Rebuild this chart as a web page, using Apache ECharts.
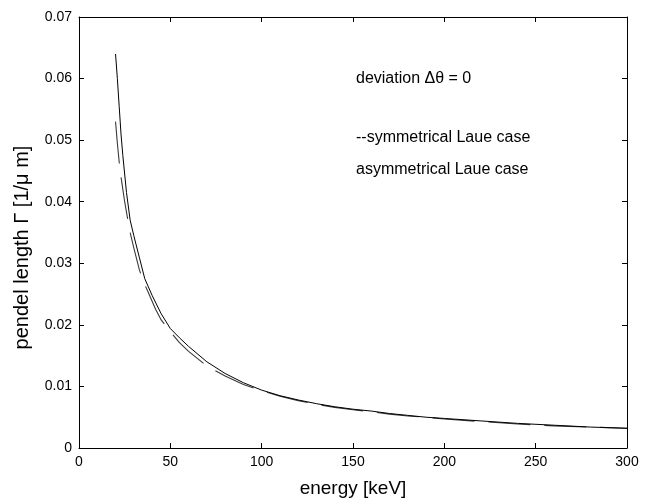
<!DOCTYPE html>
<html>
<head>
<meta charset="utf-8">
<script src="https://cdn.jsdelivr.net/npm/echarts@6/dist/echarts.min.js"></script>
<style>html,body{margin:0;padding:0;background:#fff}#c{width:650px;height:503px}</style>
</head>
<body>
<div id="c"></div>
<script>
// Asymmetrical Laue case (solid)
const asymE = [20,21,22,23,24,25,26,28,30,33,36,40,45,50,55,60,70,80,90,100,110,120,130,140,150,160,170,180,190,200,220,240,260,280,300];
const asymG = [0.0640,0.0600,0.0555,0.0510,0.0475,0.0445,0.0415,0.0370,0.0345,0.0310,0.0275,0.0248,0.0218,0.0194,0.0179,0.0165,0.0140,0.0121,0.0106,0.0094,0.0085,0.0078,0.0072,0.0067,0.0063,0.0060,0.0056,0.0053,0.0050,0.0048,0.0044,0.0040,0.0037,0.0034,0.0032];
// Symmetrical Laue case (dashed)
const symE = [20,21,22,22.5,24,25,27,28,30,33,35,38,42,45,50,55,60,70,80,90,100,110,120,130,140,150,160,170,180,190,200,220,240,260,280,300];
const symG = [0.0530,0.0495,0.0465,0.0450,0.0420,0.0400,0.0366,0.0350,0.0325,0.0290,0.0272,0.0252,0.0225,0.0208,0.0189,0.0171,0.0157,0.0133,0.0117,0.0103,0.0093,0.0084,0.0077,0.0071,0.0066,0.0062,0.0059,0.0055,0.0052,0.0050,0.0047,0.0043,0.0039,0.0036,0.0034,0.0032];
const xTicks = [0,50,100,150,200,250,300];
const yTicks = [0,0.01,0.02,0.03,0.04,0.05,0.06,0.07];
const annotations = ['deviation \u0394\u03B8 = 0', '--symmetrical Laue case', 'asymmetrical Laue case'];

const font = 'Liberation Sans, Arial, Helvetica, sans-serif';
const chart = echarts.init(document.getElementById('c'), null, {renderer:'canvas'});
const axisCommon = {
  axisLine:{show:true, onZero:false, lineStyle:{color:'#000', width:1}},
  axisTick:{show:true, inside:true, length:5, lineStyle:{color:'#000'}},
  splitLine:{show:false}
};
chart.setOption({
  animation:false,
  backgroundColor:'#fff',
  grid:{left:79, right:23, top:17, bottom:54, containLabel:false},
  xAxis:[
    Object.assign({type:'value', position:'bottom', min:0, max:300, interval:50,
      name:'energy [keV]', nameLocation:'middle', nameGap:31,
      nameTextStyle:{fontFamily:font, fontSize:19, color:'#000'},
      axisLabel:{fontFamily:font, fontSize:14, color:'#000', margin:7,
        formatter:v=>xTicks.includes(v)?String(v):''}}, axisCommon),
    Object.assign({type:'value', position:'top', min:0, max:300, interval:50,
      axisLabel:{show:false}}, axisCommon)
  ],
  yAxis:[
    Object.assign({type:'value', position:'left', min:0, max:0.07, interval:0.01,
      name:'pendel length \u0393 [1/\u03BC m]', nameLocation:'middle', nameGap:47,
      nameTextStyle:{fontFamily:font, fontSize:20, color:'#000', padding:[0,30,0,0]},
      axisLabel:{fontFamily:font, fontSize:14, color:'#000', margin:7,
        formatter:v=>{const r=Math.round(v*100)/100; return r===0?'0':r.toFixed(2);}}}, axisCommon),
    Object.assign({type:'value', position:'right', min:0, max:0.07, interval:0.01,
      axisLabel:{show:false}}, axisCommon)
  ],
  series:[
    {type:'line', name:'symmetrical', data:symE.map((e,i)=>[e,symG[i]]), showSymbol:false, smooth:false,
     lineStyle:{color:'#3a3a3a', width:1.1, type:[42,14]}, z:2},
    {type:'line', name:'asymmetrical', data:asymE.map((e,i)=>[e,asymG[i]]), showSymbol:false, smooth:false,
     lineStyle:{color:'#000', width:1}, z:3}
  ]
});
// annotation text placed by data coordinates
const pos = [[150,0.0598],[150,0.0502],[150,0.0450]];
chart.setOption({graphic: annotations.map((t,i)=>{
  const p = chart.convertToPixel({xAxisIndex:0, yAxisIndex:0}, pos[i]);
  return {type:'text', left:p[0]+3, top:p[1]-9, style:{text:t, fontFamily:font, fontSize:16, fill:'#000'}};
})});
</script>
</body>
</html>
